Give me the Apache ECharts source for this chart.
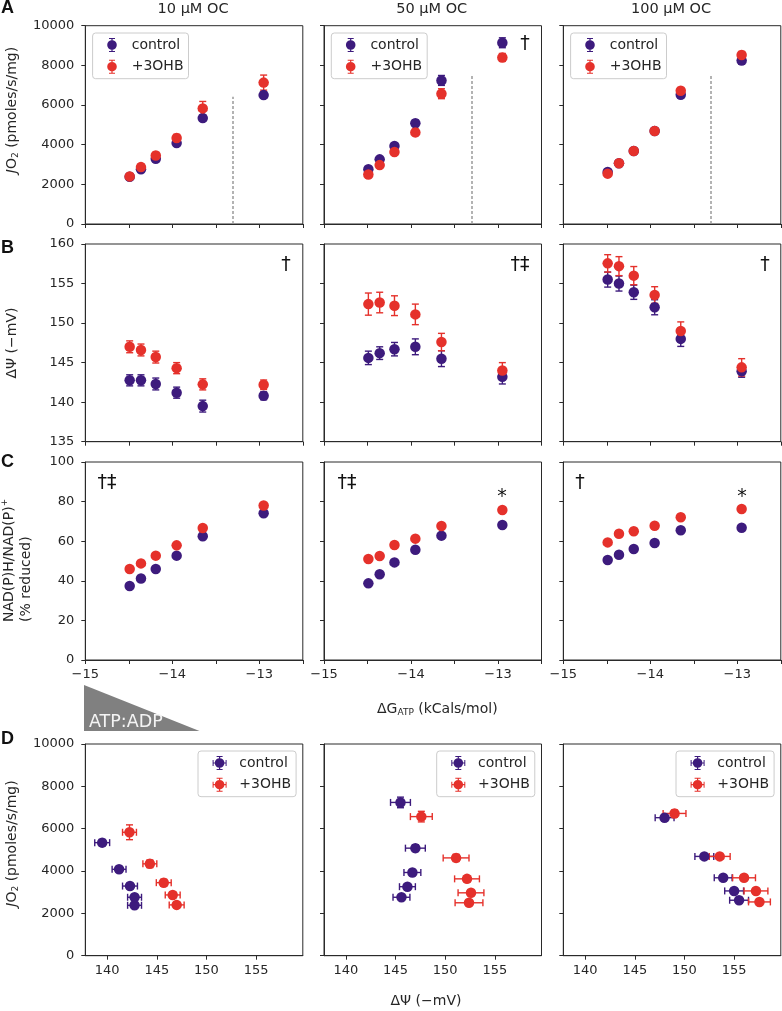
<!DOCTYPE html>
<html><head><meta charset="utf-8">
<script src="https://cdn.jsdelivr.net/npm/echarts@6/dist/echarts.min.js"></script>
<style>html,body{margin:0;padding:0;background:#fff}#c{width:782px;height:1011px}</style>
</head><body><div id="c"></div><script>
// ---------------- data ----------------
const concentrations = ['10 \u03bcM OC', '50 \u03bcM OC', '100 \u03bcM OC'];
const seriesNames = ['control', '+3OHB'];
// Delta G ATP (kCals/mol), shared x for rows A-C
const dG = [-14.49, -14.36, -14.19, -13.95, -13.65, -12.95];
// Row A: JO2 (pmoles/s/mg), one array per OC concentration
const jo2Control = [
  [2380, 2760, 3290, 4080, 5340, 6500],
  [2760, 3260, 3930, 5080, 7240, 9140],
  [2620, 3060, 3680, 4690, 6520, 8240]
];
const jo2Ohb = [
  [2400, 2870, 3450, 4340, 5830, 7130],
  [2500, 2970, 3630, 4620, 6570, 8400],
  [2540, 3060, 3680, 4690, 6720, 8520]
];
const jo2ErrControl = [
  [80, 100, 110, 120, 150, 160],
  [120, 130, 140, 160, 250, 250],
  [100, 100, 110, 120, 150, 180]
];
const jo2ErrOhb = [
  [120, 150, 160, 180, 350, 380],
  [120, 130, 140, 170, 250, 200],
  [100, 110, 110, 130, 160, 180]
];
// Row B: membrane potential (-mV)
const psiControl = [
  [142.76, 142.76, 142.3, 141.2, 139.5, 140.8],
  [145.6, 146.2, 146.7, 147.0, 145.5, 143.2],
  [155.5, 155.0, 153.9, 152.0, 148.0, 143.9]
];
const psiOhb = [
  [147.0, 146.6, 145.7, 144.3, 142.25, 142.2],
  [152.4, 152.6, 152.2, 151.1, 147.6, 144.0],
  [157.55, 157.2, 156.0, 153.55, 149.0, 144.4]
];
const psiErrControl = [
  [0.7, 0.7, 0.75, 0.7, 0.75, 0.5],
  [0.85, 0.8, 0.85, 1.0, 1.0, 0.9],
  [0.95, 0.95, 0.9, 0.95, 0.95, 0.75]
];
const psiErrOhb = [
  [0.75, 0.75, 0.75, 0.7, 0.7, 0.6],
  [1.4, 1.3, 1.25, 1.3, 1.1, 1.0],
  [1.1, 1.2, 1.15, 1.05, 1.15, 1.1]
];
// Row C: NAD(P)H/NAD(P)+ (% reduced)
const nadControl = [
  [37.4, 41.2, 46.0, 52.7, 62.5, 74.1],
  [38.7, 43.3, 49.3, 55.7, 62.8, 68.2],
  [50.5, 53.2, 56.1, 59.1, 65.5, 66.8]
];
const nadOhb = [
  [46.0, 48.8, 52.7, 57.9, 66.7, 78.0],
  [51.0, 52.5, 58.1, 61.3, 67.7, 75.8],
  [59.4, 63.8, 65.0, 67.8, 72.1, 76.3]
];
// Row D uses the first N points (those left of the dashed line)
const nPointsD = 5;
// dashed line in row A
const dashX = -13.3;
const dashTop = [6420, 7560, 7560];
// axes ticks
const dGTicks = { min: -15, max: -12.5, interval: 0.5 };
const jo2Ticks = { min: 0, max: 10000, interval: 2000 };
const psiTicks = { min: 135, max: 160, interval: 5 };
const nadTicks = { min: 0, max: 100, interval: 20 };
const psiDTicks = [140, 145, 150, 155];
const psiDRange = [137.8, 159.7];
// significance marks
const rowAMarks = ['', '\u2020', ''];
const rowBMarks = ['\u2020', '\u2020\u2021', '\u2020'];
const rowCMarks = ['\u2020\u2021', '\u2020\u2021', '\u2020'];
const rowCStars = ['', '*', '*'];

// ---------------- style / layout ----------------
const FONT = 'DejaVu Sans';
const C_CTRL = '#3d1b7d';
const C_OHB = '#e5312b';
const AX = '#2a2a2a';
const TXT = '#262626';
const colLeft = [85.3, 324, 563.3];
const colW = 217.5;
const rowTop = [25.7, 244, 462, 744];
const rowH = [198.3, 197.7, 198, 211.7];

const grids = [], xAxes = [], yAxes = [], series = [];

function axisBase() {
  return {
    type: 'value',
    axisLine: { show: true, onZero: false, lineStyle: { color: AX, width: 1 } },
    axisTick: { show: true, inside: false, length: 4, lineStyle: { color: AX, width: 1 } },
    splitLine: { show: false },
    axisLabel: { show: true, color: TXT, fontFamily: FONT, fontSize: 13 }
  };
}

function errorBars(params, api) {
  const x = api.value(0), y = api.value(1), xe = api.value(2), ye = api.value(3);
  const color = api.visual('color');
  const st = { stroke: color, lineWidth: 1.4 };
  const cap = 3.5;
  const ch = [];
  if (ye) {
    const a = api.coord([x, y - ye]), b = api.coord([x, y + ye]);
    ch.push({ type: 'line', shape: { x1: a[0], y1: a[1], x2: b[0], y2: b[1] }, style: st });
    ch.push({ type: 'line', shape: { x1: a[0] - cap, y1: a[1], x2: a[0] + cap, y2: a[1] }, style: st });
    ch.push({ type: 'line', shape: { x1: b[0] - cap, y1: b[1], x2: b[0] + cap, y2: b[1] }, style: st });
  }
  if (xe) {
    const a = api.coord([x - xe, y]), b = api.coord([x + xe, y]);
    ch.push({ type: 'line', shape: { x1: a[0], y1: a[1], x2: b[0], y2: b[1] }, style: st });
    ch.push({ type: 'line', shape: { x1: a[0], y1: a[1] - cap, x2: a[0], y2: a[1] + cap }, style: st });
    ch.push({ type: 'line', shape: { x1: b[0], y1: b[1] - cap, x2: b[0], y2: b[1] + cap }, style: st });
  }
  return { type: 'group', children: ch };
}

function addPanel(r, c, xCfg, yCfg, showXLabels, showYLabels) {
  grids.push({ left: colLeft[c], top: rowTop[r], width: colW, height: rowH[r], show: true,
    borderColor: AX, borderWidth: 1, containLabel: false, outerBoundsMode: 'none' });
  const gi = grids.length - 1;
  const xa = Object.assign(axisBase(), { gridIndex: gi }, xCfg.axis);
  xa.axisLabel = Object.assign(xa.axisLabel, { show: showXLabels, margin: 8 }, xCfg.label || {});
  if (xCfg.tick) xa.axisTick = Object.assign(xa.axisTick, xCfg.tick);
  const ya = Object.assign(axisBase(), { gridIndex: gi }, yCfg.axis);
  ya.axisLabel = Object.assign(ya.axisLabel, { show: showYLabels, margin: 11, formatter: v => String(v) });
  xAxes.push(xa); yAxes.push(ya);
  return gi;
}

function addSeries(gi, name, color, pts, extra) {
  series.push({ type: 'custom', name: name + ' err', xAxisIndex: gi, yAxisIndex: gi,
    renderItem: errorBars, itemStyle: { color: color }, encode: { x: 0, y: 1 },
    data: pts.map(p => [p[0], p[1], p[2] || 0, p[3] || 0]), silent: true });
  series.push(Object.assign({ type: 'scatter', name: name, xAxisIndex: gi, yAxisIndex: gi,
    symbol: 'circle', symbolSize: 10.5, itemStyle: { color: color, opacity: 1 },
    data: pts.map(p => [p[0], p[1]]) }, extra || {}));
}

const intLabel = v => Number.isInteger(v) ? (v < 0 ? '\u2212' : '') + Math.abs(v) : '';
const xDG = { axis: dGTicks, label: { formatter: intLabel } };

for (let c = 0; c < 3; c++) {
  // Row A
  let gi = addPanel(0, c, xDG, { axis: jo2Ticks }, false, c === 0);
  addSeries(gi, 'control', C_CTRL, dG.map((x, i) => [x, jo2Control[c][i], 0, jo2ErrControl[c][i]]), {
    markLine: { silent: true, symbol: 'none', label: { show: false }, animation: false,
      lineStyle: { color: '#9a9a9a', type: [3, 2], width: 1.5 },
      data: [[{ coord: [dashX, 0] }, { coord: [dashX, dashTop[c]] }]] }
  });
  addSeries(gi, '+3OHB', C_OHB, dG.map((x, i) => [x, jo2Ohb[c][i], 0, jo2ErrOhb[c][i]]));
  // Row B
  gi = addPanel(1, c, xDG, { axis: psiTicks }, false, c === 0);
  addSeries(gi, 'control', C_CTRL, dG.map((x, i) => [x, psiControl[c][i], 0, psiErrControl[c][i]]));
  addSeries(gi, '+3OHB', C_OHB, dG.map((x, i) => [x, psiOhb[c][i], 0, psiErrOhb[c][i]]));
  // Row C
  gi = addPanel(2, c, xDG, { axis: nadTicks }, true, c === 0);
  addSeries(gi, 'control', C_CTRL, dG.map((x, i) => [x, nadControl[c][i]]));
  addSeries(gi, '+3OHB', C_OHB, dG.map((x, i) => [x, nadOhb[c][i]]));
  // Row D
  gi = addPanel(3, c, { axis: { min: psiDRange[0], max: psiDRange[1] },
      label: { customValues: psiDTicks }, tick: { customValues: psiDTicks } },
    { axis: jo2Ticks }, true, c === 0);
  const idx = dG.slice(0, nPointsD).map((_, i) => i);
  addSeries(gi, 'control', C_CTRL, idx.map(i => [psiControl[c][i], jo2Control[c][i], psiErrControl[c][i], jo2ErrControl[c][i]]));
  addSeries(gi, '+3OHB', C_OHB, idx.map(i => [psiOhb[c][i], jo2Ohb[c][i], psiErrOhb[c][i], jo2ErrOhb[c][i]]));
}

// ---------------- legends ----------------
const CIRCLE = 'M-4.8,0 A4.8,4.8 0 1,1 4.8,0 A4.8,4.8 0 1,1 -4.8,0 Z ';
const VBARS = 'M-3,-7 L3,-7 L3,-6 L0.6,-6 L0.6,-4.7 L-0.6,-4.7 L-0.6,-6 L-3,-6 Z M-3,7 L3,7 L3,6 L0.6,6 L0.6,4.7 L-0.6,4.7 L-0.6,6 L-3,6 Z ';
const HBARS = 'M-7,-3 L-7,3 L-6,3 L-6,0.6 L-4.7,0.6 L-4.7,-0.6 L-6,-0.6 L-6,-3 Z M7,-3 L7,3 L6,3 L6,0.6 L4.7,0.6 L4.7,-0.6 L6,-0.6 L6,-3 Z ';
const ICON_V = 'path://' + CIRCLE + VBARS;
const ICON_VH = 'path://' + CIRCLE + VBARS + HBARS;
const legendBase = {
  orient: 'vertical', itemWidth: 29.4, itemHeight: 14, itemGap: 7.7,
  padding: [5, 5, 5, 14.6], backgroundColor: 'rgba(255,255,255,0.85)',
  borderColor: '#cccccc', borderWidth: 1, borderRadius: 3, selectedMode: false,
  symbolKeepAspect: true,
  textStyle: { fontFamily: FONT, fontSize: 14, color: TXT }
};
const legends = [];
for (let c = 0; c < 3; c++) {
  legends.push(Object.assign({}, legendBase, { left: colLeft[c] + 7.3, top: 33,
    data: seriesNames.map(n => ({ name: n, icon: ICON_V })) }));
  legends.push(Object.assign({}, legendBase, { left: colLeft[c] + colW - 7.3 - 97.5, top: 751,
    data: seriesNames.map(n => ({ name: n, icon: ICON_VH })) }));
}

// ---------------- text / decorations ----------------
function txt(x, y, text, o) {
  o = o || {};
  return { type: 'text', x: x, y: y, rotation: o.rot || 0, silent: true, z: 100,
    style: { text: text, x: 0, y: 0, fill: o.fill || TXT, fontFamily: o.family || FONT,
      fontSize: o.size || 14, fontWeight: o.weight || 'normal',
      align: o.align || 'center', verticalAlign: o.valign || 'middle',
      textAlign: o.align || 'center', textVerticalAlign: o.valign || 'middle',
      rich: o.rich } };
}
const subRich = { s: { fontSize: 9, fontFamily: FONT, fill: TXT, padding: [8, 0, 0, 0] },
  i: { fontSize: 14, fontFamily: FONT, fontStyle: 'italic', fill: TXT },
  p: { fontSize: 9, fontFamily: FONT, fill: TXT, padding: [0, 0, 9, 0] } };
const graphics = [];
concentrations.forEach((t, c) => graphics.push(txt(colLeft[c] + colW / 2 - 1, 9, t, { size: 14.5 })));
[['A', 8.5], ['B', 248.5], ['C', 462.5], ['D', 739]].forEach(p =>
  graphics.push(txt(1, p[1], p[0], { align: 'left', size: 18, weight: 'bold', family: 'Liberation Sans', fill: '#111' })));
graphics.push(txt(12, 110, '{i|J}O{s|2} (pmoles/s/mg)', { rot: Math.PI / 2, rich: subRich }));
graphics.push(txt(12, 343, '\u0394\u03a8 (\u2212mV)', { rot: Math.PI / 2 }));
graphics.push(txt(9, 622, 'NAD(P)H/NAD(P){p|+}', { rot: Math.PI / 2, align: 'left', rich: subRich }));
graphics.push(txt(26, 622, '(% reduced)', { rot: Math.PI / 2, align: 'left' }));
graphics.push(txt(12, 843.5, '{i|J}O{s|2} (pmoles/s/mg)', { rot: Math.PI / 2, rich: subRich }));
graphics.push(txt(377, 709, '\u0394G{s|ATP} (kCals/mol)', { align: 'left', rich: subRich }));
graphics.push(txt(426, 1001, '\u0394\u03a8 (\u2212mV)'));
// ATP:ADP wedge
graphics.push({ type: 'polygon', silent: true, z: 90,
  shape: { points: [[84, 685], [84, 731], [199.5, 731]] }, style: { fill: '#808080' } });
graphics.push(txt(89, 722, 'ATP:ADP', { align: 'left', size: 17.5, fill: '#f4f4f4' }));
// significance marks
const markX = { A: [0, 525, 0], B: [286, 520, 765], C: [107, 347, 580] };
rowAMarks.forEach((m, c) => { if (m) graphics.push(txt(markX.A[c], 44, m, { size: 19, fill: '#111' })); });
rowBMarks.forEach((m, c) => graphics.push(txt(markX.B[c], 265, m, { size: 19, fill: '#111' })));
rowCMarks.forEach((m, c) => graphics.push(txt(markX.C[c], 483, m, { size: 19, fill: '#111' })));
const starX = [0, 502, 742];
rowCStars.forEach((m, c) => { if (m) graphics.push(txt(starX[c], 497, m, { size: 19, fill: '#111' })); });

const chart = echarts.init(document.getElementById('c'), null, { renderer: 'canvas' });
chart.setOption({
  backgroundColor: '#ffffff',
  animation: false,
  grid: grids,
  xAxis: xAxes,
  yAxis: yAxes,
  legend: legends,
  series: series,
  graphic: graphics
});
</script></body></html>
